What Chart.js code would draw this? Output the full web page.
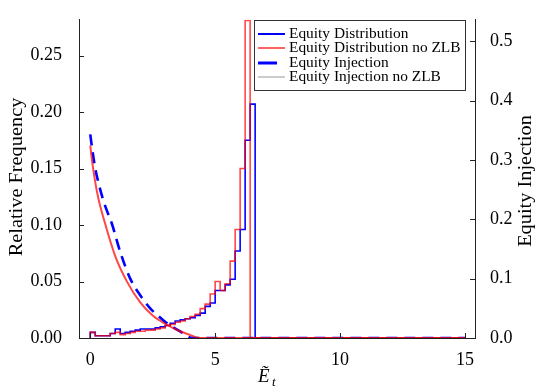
<!DOCTYPE html>
<html>
<head>
<meta charset="utf-8">
<script src="https://cdn.jsdelivr.net/npm/chart.js@4.4.0/dist/chart.umd.min.js"></script>
<style>
html, body { margin: 0; padding: 0; background: #fff; }
</style>
</head>
<body>
<canvas id="chart1" width="539" height="392"></canvas>
<script>
// histogram bins (left edges, width 0.2)
var binStart = [0.0, 0.2, 0.4, 0.6, 0.8, 1.0, 1.2, 1.4, 1.6, 1.8, 2.0, 2.2, 2.4, 2.6, 2.8, 3.0, 3.2,
                3.4, 3.6, 3.8, 4.0, 4.2, 4.4, 4.6, 4.8, 5.0, 5.2, 5.4, 5.6, 5.8, 6.0, 6.2, 6.4];
var binEnd = 6.6;
var gridEnd = 15;

var distZlb = [0.005, 0.002, 0.002, 0.002, 0.004, 0.008, 0.004, 0.005, 0.006, 0.007, 0.008, 0.008, 0.008,
               0.009, 0.010, 0.011, 0.013, 0.015, 0.016, 0.017, 0.018, 0.020, 0.022, 0.028, 0.031, 0.042,
               0.042, 0.047, 0.052, 0.077, 0.096, 0.175, 0.207];
var distNoZlb = [0.005, 0.002, 0.002, 0.002, 0.004, 0.005, 0.003, 0.004, 0.005, 0.006, 0.006, 0.007, 0.007,
                 0.008, 0.009, 0.011, 0.012, 0.014, 0.015, 0.017, 0.019, 0.021, 0.026, 0.030, 0.039, 0.050,
                 0.042, 0.048, 0.068, 0.096, 0.150, 0.281, 0.0];

// equity injection curves (right axis)
var injX = [0, 0.1, 0.2, 0.4, 0.6, 0.87, 1.2, 1.6, 2.0, 2.4, 2.73, 3.1, 3.6, 4.1, 15];
var injZlb = [0.343, 0.312, 0.286, 0.25, 0.222, 0.192, 0.145, 0.100, 0.072, 0.050, 0.037, 0.024, 0.011, 0, 0];
var injNoX = [0, 0.1, 0.3, 0.6, 1.0, 1.47, 2.0, 2.5, 3.0, 3.5, 4.0, 4.4, 15];
var injNoZlb = [0.324, 0.29, 0.24, 0.192, 0.138, 0.095, 0.060, 0.038, 0.024, 0.013, 0.005, 0, 0];

var xTicks = [0, 5, 10, 15];
var leftTicks = [0, 0.05, 0.10, 0.15, 0.20, 0.25];
var rightTicks = [0, 0.1, 0.2, 0.3, 0.4, 0.5];

var labels = ['Equity Distribution', 'Equity Distribution no ZLB', 'Equity Injection', 'Equity Injection no ZLB'];
var blue = '#0000ff';
var red = 'rgba(255,0,0,0.72)';
var legendColors = [blue, 'rgba(255,60,60,0.8)', blue, '#999999'];
var legendWidths = [2, 2, 3, 1];

var serif = "'Liberation Serif', 'DejaVu Serif', serif";

function histPoints(vals) {
    var pts = [{x: binStart[0], y: 0}];
    for (var i = 0; i < vals.length; i++) pts.push({x: binStart[i], y: vals[i]});
    pts.push({x: binEnd, y: 0});
    pts.push({x: gridEnd, y: 0});
    return pts;
}
function curvePoints(xs, ys) {
    return xs.map(function(x, i) { return {x: x, y: ys[i]}; });
}

// text stretched a bit wider, closer to the computer modern look
function wideText(ctx, txt, x, y, sx) {
    ctx.save();
    ctx.translate(x, y);
    ctx.scale(sx, 1);
    ctx.fillText(txt, 0, 0);
    ctx.restore();
}

var extras = {
    id: 'extras',
    afterDraw: function(chart) {
        var ctx = chart.ctx, a = chart.chartArea;
        var sx = chart.scales.x, sy = chart.scales.y, sy2 = chart.scales.y2;
        ctx.save();
        // inward tick marks
        ctx.strokeStyle = '#222';
        ctx.lineWidth = 1;
        ctx.beginPath();
        xTicks.forEach(function(t) {
            var p = Math.round(sx.getPixelForValue(t)) + 0.5;
            ctx.moveTo(p, a.bottom); ctx.lineTo(p, a.bottom - 5);
        });
        leftTicks.forEach(function(t) {
            var p = Math.round(sy.getPixelForValue(t)) + 0.5;
            ctx.moveTo(a.left, p); ctx.lineTo(a.left + 5, p);
        });
        rightTicks.forEach(function(t) {
            var p = Math.round(sy2.getPixelForValue(t)) + 0.5;
            ctx.moveTo(a.right, p); ctx.lineTo(a.right - 5, p);
        });
        ctx.stroke();

        // axis titles
        ctx.fillStyle = '#000';
        ctx.font = '18px ' + serif;
        ctx.textAlign = 'center';
        ctx.textBaseline = 'middle';
        ctx.save(); ctx.translate(17, 177); ctx.rotate(-Math.PI / 2);
        wideText(ctx, 'Relative Frequency', 0, 0, 1.13); ctx.restore();
        ctx.save(); ctx.translate(526, 181); ctx.rotate(-Math.PI / 2);
        wideText(ctx, 'Equity Injection', 0, 0, 1.13); ctx.restore();
        ctx.textAlign = 'left';
        ctx.textBaseline = 'alphabetic';
        ctx.font = 'italic 19px ' + serif;
        ctx.fillText('\u1EBC', 258, 382);
        ctx.font = 'italic 13px ' + serif;
        ctx.fillText('t', 272, 386);

        // legend box
        ctx.fillStyle = '#fff';
        ctx.fillRect(254, 20, 212, 71);
        ctx.strokeStyle = '#333';
        ctx.strokeRect(254.5, 20.5, 211, 70);
        var rows = [34, 48, 63, 77];
        ctx.font = '14px ' + serif;
        ctx.textBaseline = 'middle';
        for (var i = 0; i < labels.length; i++) {
            ctx.strokeStyle = legendColors[i];
            ctx.lineWidth = legendWidths[i];
            ctx.beginPath();
            ctx.moveTo(258, rows[i]);
            ctx.lineTo(i == 2 ? 277 : 285, rows[i]);
            ctx.stroke();
            ctx.fillStyle = '#000';
            wideText(ctx, labels[i], 289, rows[i], 1.1);
        }
        ctx.restore();
    }
};

new Chart('chart1', {
    type: 'line',
    data: {
        datasets: [{
            label: labels[0],
            data: histPoints(distZlb),
            borderColor: blue,
            borderWidth: 1.6,
            stepped: true,
            yAxisID: 'y',
            order: 3
        }, {
            label: labels[1],
            data: histPoints(distNoZlb),
            borderColor: red,
            borderWidth: 1.6,
            stepped: true,
            yAxisID: 'y',
            order: 2
        }, {
            label: labels[2],
            data: curvePoints(injX, injZlb),
            borderColor: blue,
            borderWidth: 2.6,
            borderDash: [11, 7],
            cubicInterpolationMode: 'monotone',
            yAxisID: 'y2',
            order: 1
        }, {
            label: labels[3],
            data: curvePoints(injNoX, injNoZlb),
            borderColor: red,
            borderWidth: 2,
            cubicInterpolationMode: 'monotone',
            yAxisID: 'y2',
            order: 0
        }]
    },
    options: {
        responsive: false,
        animation: false,
        layout: {padding: {top: 8, left: 0, right: 0, bottom: 0}},
        elements: {point: {radius: 0}},
        plugins: {legend: {display: false}, tooltip: {enabled: false}},
        scales: {
            x: {
                type: 'linear', min: -0.45, max: 15.4,
                grid: {display: false},
                border: {display: true, color: '#222', width: 1},
                afterBuildTicks: function(s) { s.ticks = xTicks.map(function(v) { return {value: v}; }); },
                afterFit: function(s) { s.height = 54; },
                ticks: {color: '#000', font: {family: serif, size: 18}, padding: 3, maxRotation: 0,
                        callback: function(v) { return String(v); }}
            },
            y: {
                position: 'left', min: 0, max: 0.2816,
                grid: {display: false},
                border: {display: true, color: '#222', width: 1},
                afterBuildTicks: function(s) { s.ticks = leftTicks.map(function(v) { return {value: v}; }); },
                afterFit: function(s) { s.width = 79; },
                ticks: {color: '#000', font: {family: serif, size: 18}, padding: 9,
                        callback: function(v) { return v.toFixed(2); }}
            },
            y2: {
                position: 'right', min: 0, max: 0.536,
                grid: {display: false},
                border: {display: true, color: '#222', width: 1},
                afterBuildTicks: function(s) { s.ticks = rightTicks.map(function(v) { return {value: v}; }); },
                afterFit: function(s) { s.width = 64; },
                ticks: {color: '#000', font: {family: serif, size: 18}, padding: 7,
                        callback: function(v) { return v.toFixed(1); }}
            }
        }
    },
    plugins: [extras]
});
</script>
</body>
</html>
